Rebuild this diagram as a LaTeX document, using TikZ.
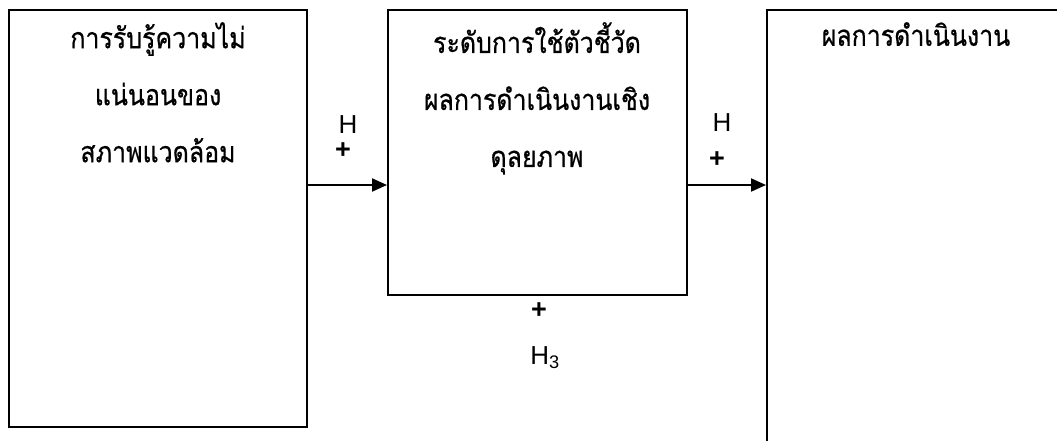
\documentclass[tikz,border=0pt]{standalone}
\usepackage{fontspec}
\setmainfont{Liberation Sans}
\newfontfamily\thaifont[Script=Thai,FakeStretch=0.86,FakeBold=0.6]{Loma}
\usetikzlibrary{arrows.meta}
\begin{document}
\begin{tikzpicture}[x=1pt,y=-1pt,
  box/.style={draw=black,line width=2pt,fill=white,inner sep=0pt},
  thai/.style={font=\thaifont\fontsize{29}{57}\selectfont,align=center,anchor=north,inner sep=0pt},
  lbl/.style={font=\fontsize{26}{30}\selectfont,inner sep=0pt},
  plus/.style={font=\fontsize{27}{30}\selectfont\bfseries,inner sep=0pt},
  conn/.style={line width=2pt,-{Triangle[length=15pt,width=13pt]}}]
\useasboundingbox (0,0) rectangle (1057,440);
\begin{scope}
\clip (0,0) rectangle (1057,440);
\node[box,minimum width=298pt,minimum height=417pt] (b1) at (158,218.5) {};
\node[box,minimum width=299pt,minimum height=285pt] (b2) at (537.5,152.5) {};
\node[box,minimum width=298pt,minimum height=470pt] (b3) at (916,245) {};
\end{scope}
\node[thai] (t1) at (158,22) {การรับรู้ความไม่\\แน่นอนของ\\สภาพแวดล้อม};
\node[thai] (t2) at (537,22) {ระดับการใช้ตัวชี้วัด\\ผลการดำเนินงานเชิง\\ดุลยภาพ};
\node[thai] (t3) at (916,22) {ผลการดำเนินงาน};
\draw[conn] (b1.east |- 0,185) -- (b2.west |- 0,185);
\draw[conn] (b2.east |- 0,185) -- (b3.west |- 0,185);
\node[lbl] (h1) at (348,125) {H};
\node[plus] (p1) at (343,151) {+};
\node[lbl] (h2) at (722,123) {H};
\node[plus] (p2) at (717,160) {+};
\node[plus] (p3) at (539,311) {+};
\node[lbl] (h3) at (545,358) {H\textsubscript{3}};
\end{tikzpicture}
\end{document}
